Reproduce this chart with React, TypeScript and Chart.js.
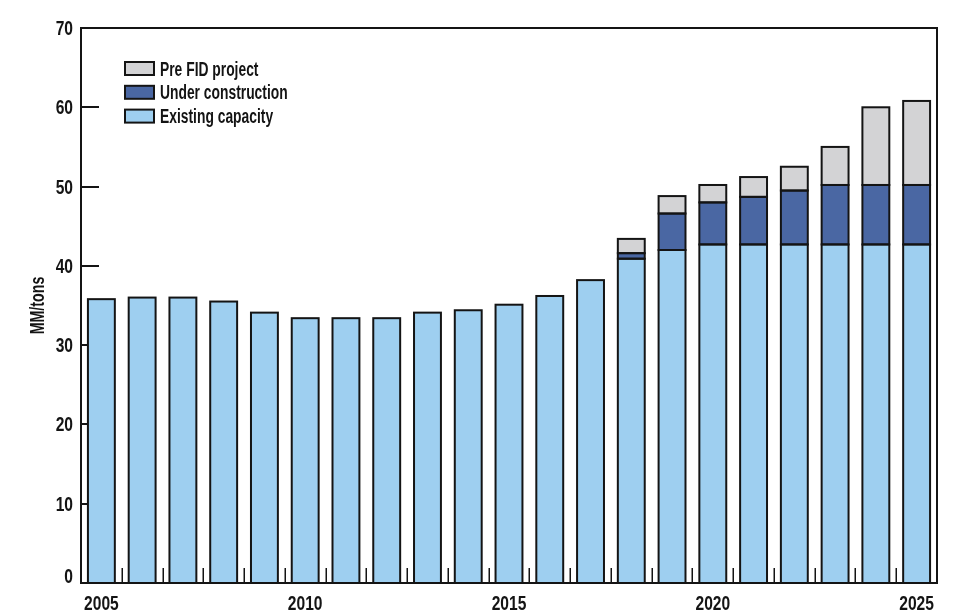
import React, { useEffect, useRef } from "react";
import { Chart, registerables } from "chart.js";

Chart.register(...registerables);

const years = ["2005","2006","2007","2008","2009","2010","2011","2012","2013","2014","2015","2016","2017","2018","2019","2020","2021","2022","2023","2024","2025"];
const existingCapacity = [35.8, 36.0, 36.0, 35.5, 34.1, 33.4, 33.4, 33.4, 34.1, 34.4, 35.1, 36.2, 38.2, 40.9, 42.0, 42.7, 42.7, 42.7, 42.7, 42.7, 42.7];
const underConstruction = [null, null, null, null, null, null, null, null, null, null, null, null, null, 0.7, 4.6, 5.3, 6.0, 6.8, 7.5, 7.5, 7.5];
const preFidProject = [null, null, null, null, null, null, null, null, null, null, null, null, null, 1.8, 2.2, 2.2, 2.5, 3.0, 4.8, 9.8, 10.6];
const yTicks = [0, 10, 20, 30, 40, 50, 60, 70];
const labelYears = ["2005", "2010", "2015", "2020", "2025"];
const yTitle = "MM/tons";

const FONT = "'Liberation Sans', Arial, sans-serif";
const INK = "#141414";
const COL_EXIST = "#9ECFF0";
const COL_UC = "#4A67A3";
const COL_PRE = "#D3D3D5";

const DIGIT_SX = 0.8;
const TEXT_SX = 0.71;

function drawText(ctx: CanvasRenderingContext2D, text: string, x: number, y: number, align: CanvasTextAlign, sx: number, font: string, rot = 0) {
  ctx.save();
  ctx.translate(x, y);
  if (rot) ctx.rotate(rot);
  ctx.scale(sx, 1);
  ctx.font = font;
  ctx.textAlign = align;
  ctx.textBaseline = "alphabetic";
  ctx.fillStyle = INK;
  ctx.fillText(text, 0, 0);
  ctx.restore();
}

const framePlugin = {
  id: "frame",
  beforeDatasetsDraw(chart: any) {
    const { ctx, chartArea, scales } = chart;
    const y = scales.y;
    const x = scales.x;
    ctx.save();
    ctx.strokeStyle = INK;
    ctx.lineWidth = 2;
    ctx.beginPath();
    yTicks.forEach((v) => {
      if (v === 0) return;
      const py = Math.round(y.getPixelForValue(v));
      ctx.moveTo(chartArea.left, py);
      ctx.lineTo(chartArea.left + 18, py);
    });
    ctx.stroke();
    ctx.lineWidth = 1.5;
    ctx.beginPath();
    for (let i = 0; i < years.length - 1; i++) {
      const px = Math.round((x.getPixelForValue(i) + x.getPixelForValue(i + 1)) / 2) + 0.25;
      ctx.moveTo(px, chartArea.bottom);
      ctx.lineTo(px, chartArea.bottom - 15);
    }
    ctx.stroke();
    ctx.restore();
  },
  afterDatasetsDraw(chart: any) {
    const { ctx, chartArea, scales } = chart;
    ctx.save();
    // bar outlines
    ctx.strokeStyle = INK;
    ctx.lineWidth = 2;
    chart.data.datasets.forEach((ds: any, di: number) => {
      const meta = chart.getDatasetMeta(di);
      meta.data.forEach((el: any, i: number) => {
        const v = ds.data[i];
        if (v === null || v === undefined) return;
        const p = el.getProps(["x", "y", "base", "width"], true);
        if (!isFinite(p.y) || !isFinite(p.base)) return;
        ctx.strokeRect(p.x - p.width / 2, p.y, p.width, p.base - p.y);
      });
    });
    // frame
    ctx.strokeRect(chartArea.left, chartArea.top, chartArea.right - chartArea.left, chartArea.bottom - chartArea.top);
    // legend inside the plot
    const order = [2, 1, 0];
    order.forEach((di, row) => {
      const ds = chart.data.datasets[di];
      const cy = chartArea.top + 40.5 + row * 23.8;
      const bx = chartArea.left + 44;
      ctx.fillStyle = ds.backgroundColor;
      ctx.fillRect(bx, cy - 6.5, 29, 13);
      ctx.lineWidth = 2;
      ctx.strokeStyle = INK;
      ctx.strokeRect(bx, cy - 6.5, 29, 13);
      drawText(ctx, ds.label, bx + 35, cy + 7, "left", TEXT_SX, `bold 19.5px ${FONT}`);
    });
    // y tick labels
    const y = scales.y;
    yTicks.forEach((v) => {
      const py = y.getPixelForValue(v);
      const base = v === 0 ? chartArea.bottom : py + 7;
      drawText(ctx, String(v), chartArea.left - 8, base, "right", DIGIT_SX, `bold 19.5px ${FONT}`);
    });
    // x tick labels
    const x = scales.x;
    years.forEach((yr, i) => {
      if (!labelYears.includes(yr)) return;
      drawText(ctx, yr, x.getPixelForValue(i), chartArea.bottom + 27, "center", DIGIT_SX, `bold 19.5px ${FONT}`);
    });
    // y title
    drawText(ctx, yTitle, 44, (chartArea.top + chartArea.bottom) / 2, "center", 0.73, `bold 19.5px ${FONT}`, -Math.PI / 2);
    ctx.restore();
  },
};

export default function App() {
  const ref = useRef<HTMLCanvasElement | null>(null);
  useEffect(() => {
    document.body.style.margin = "0";
    const canvas = ref.current!;
    const barOpts = {
      borderWidth: 0,
      categoryPercentage: 1,
      barPercentage: 0.66,
    };
    const chart = new Chart(canvas, {
      type: "bar",
      data: {
        labels: years,
        datasets: [
          { label: "Existing capacity", data: existingCapacity, backgroundColor: COL_EXIST, ...barOpts },
          { label: "Under construction", data: underConstruction as any, backgroundColor: COL_UC, ...barOpts },
          { label: "Pre FID project", data: preFidProject as any, backgroundColor: COL_PRE, ...barOpts },
        ],
      },
      options: {
        animation: false,
        responsive: false,
        devicePixelRatio: 1,
        layout: { padding: { top: 28, right: 18, left: 0, bottom: 0 } },
        plugins: { legend: { display: false }, tooltip: { enabled: false } },
        scales: {
          x: {
            stacked: true,
            offset: true,
            grid: { display: false, drawTicks: false },
            border: { display: false },
            ticks: { display: false, autoSkip: false },
            afterFit: (s: any) => { s.height = 33; },
          },
          y: {
            stacked: true,
            min: 0,
            max: 70,
            grid: { display: false, drawTicks: false },
            border: { display: false },
            ticks: { display: false, stepSize: 10 },
            afterFit: (s: any) => { s.width = 81; },
          },
        },
      },
      plugins: [framePlugin],
    });
    return () => chart.destroy();
  }, []);
  return (
    <div style={{ position: "absolute", left: 0, top: 0, width: 955, height: 616, background: "#fff" }}>
      <canvas ref={ref} width={955} height={616} style={{ display: "block" }} />
    </div>
  );
}
